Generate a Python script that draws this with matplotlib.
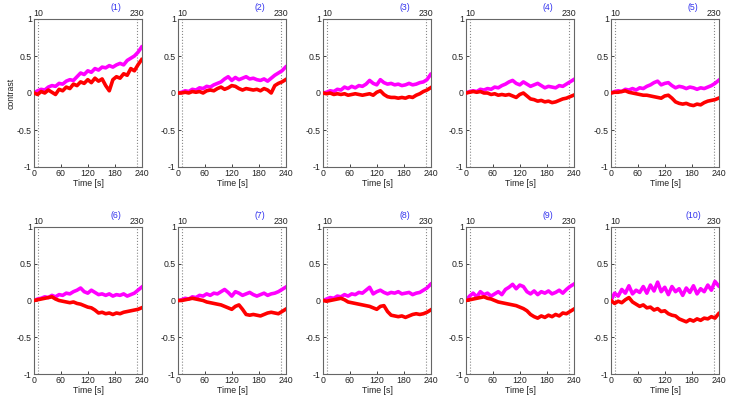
import numpy as np
import matplotlib
matplotlib.use("Agg")
import matplotlib.pyplot as plt

# time samples (s)
t = list(range(0, 241, 8))

titles = ["(1)", "(2)", "(3)", "(4)", "(5)", "(6)", "(7)", "(8)", "(9)", "(10)"]
xticks = [0, 60, 120, 180, 240]
yticks = [-1, -0.5, 0, 0.5, 1]
ytick_labels = ["-1", "-0.5", "0", "0.5", "1"]
top_ticks = [10, 230]

m1 = [0.00,0.03,0.05,0.04,0.08,0.10,0.09,0.13,0.12,0.16,0.18,0.17,0.22,0.27,0.25,0.30,0.28,0.33,0.31,0.35,0.34,0.37,0.35,0.38,0.40,0.38,0.44,0.47,0.50,0.55,0.62]
r1 = [0.00,-0.02,0.02,0.00,0.04,0.01,-0.02,0.05,0.03,0.08,0.06,0.12,0.10,0.15,0.13,0.18,0.14,0.20,0.16,0.19,0.10,0.03,0.18,0.22,0.20,0.26,0.24,0.33,0.30,0.38,0.45]
m2 = [0.00,0.01,0.03,0.02,0.05,0.04,0.07,0.06,0.09,0.08,0.11,0.13,0.15,0.19,0.22,0.17,0.21,0.18,0.20,0.22,0.19,0.20,0.18,0.17,0.19,0.16,0.20,0.24,0.27,0.30,0.35]
r2 = [0.00,0.00,0.01,0.00,0.02,0.01,0.02,0.00,0.03,0.04,0.03,0.06,0.08,0.05,0.07,0.10,0.09,0.06,0.04,0.06,0.05,0.04,0.05,0.03,0.06,0.04,0.00,0.10,0.13,0.15,0.18]
m3 = [0.00,0.01,0.03,0.02,0.05,0.04,0.08,0.06,0.09,0.07,0.10,0.09,0.12,0.17,0.13,0.11,0.18,0.14,0.12,0.13,0.11,0.12,0.10,0.11,0.13,0.11,0.12,0.14,0.15,0.18,0.25]
r3 = [0.00,-0.01,0.00,-0.02,-0.01,-0.02,-0.01,-0.03,-0.02,-0.01,-0.02,-0.03,-0.02,-0.01,-0.03,0.01,0.03,-0.02,-0.05,-0.06,-0.06,-0.07,-0.06,-0.07,-0.05,-0.06,-0.03,-0.01,0.02,0.04,0.07]
m4 = [0.00,0.02,0.03,0.02,0.05,0.04,0.06,0.05,0.08,0.07,0.10,0.12,0.15,0.17,0.13,0.11,0.15,0.12,0.09,0.11,0.13,0.10,0.07,0.09,0.08,0.07,0.10,0.09,0.12,0.15,0.18]
r4 = [0.00,0.01,0.02,0.01,0.02,0.00,0.00,-0.02,-0.01,-0.03,-0.02,-0.03,-0.02,-0.04,-0.06,-0.02,0.00,-0.04,-0.08,-0.09,-0.11,-0.10,-0.12,-0.11,-0.13,-0.12,-0.10,-0.08,-0.07,-0.05,-0.03]
m5 = [0.00,0.02,0.03,0.02,0.05,0.04,0.06,0.04,0.07,0.06,0.09,0.11,0.14,0.16,0.11,0.13,0.14,0.10,0.07,0.09,0.08,0.06,0.08,0.07,0.05,0.07,0.06,0.08,0.10,0.13,0.17]
r5 = [0.00,0.01,0.01,0.02,0.03,0.01,0.00,-0.01,-0.02,-0.03,-0.03,-0.04,-0.05,-0.06,-0.07,-0.04,-0.03,-0.07,-0.12,-0.14,-0.15,-0.14,-0.16,-0.17,-0.15,-0.16,-0.13,-0.11,-0.10,-0.09,-0.07]
m6 = [0.00,0.02,0.03,0.05,0.04,0.07,0.05,0.08,0.07,0.10,0.09,0.12,0.14,0.17,0.12,0.10,0.14,0.11,0.08,0.09,0.07,0.09,0.06,0.08,0.07,0.09,0.06,0.08,0.10,0.14,0.18]
r6 = [0.00,0.01,0.02,0.03,0.04,0.05,0.02,0.00,-0.01,-0.02,-0.03,-0.02,-0.04,-0.05,-0.07,-0.09,-0.10,-0.13,-0.17,-0.16,-0.18,-0.17,-0.19,-0.17,-0.18,-0.16,-0.15,-0.14,-0.13,-0.12,-0.10]
m7 = [0.00,0.01,0.03,0.02,0.05,0.04,0.07,0.06,0.09,0.07,0.10,0.09,0.12,0.15,0.11,0.06,0.12,0.10,0.07,0.09,0.11,0.08,0.06,0.08,0.10,0.07,0.09,0.10,0.12,0.15,0.18]
r7 = [0.00,0.00,0.01,0.02,0.03,0.02,0.01,0.00,-0.02,-0.03,-0.04,-0.05,-0.06,-0.08,-0.10,-0.12,-0.08,-0.06,-0.12,-0.19,-0.20,-0.19,-0.20,-0.21,-0.19,-0.17,-0.16,-0.17,-0.18,-0.15,-0.12]
m8 = [0.00,0.02,0.04,0.03,0.06,0.05,0.08,0.06,0.09,0.08,0.11,0.10,0.14,0.18,0.09,0.12,0.14,0.11,0.09,0.11,0.10,0.12,0.09,0.10,0.11,0.08,0.10,0.11,0.14,0.17,0.22]
r8 = [0.00,-0.01,0.00,0.01,0.02,0.03,0.01,-0.02,-0.03,-0.04,-0.05,-0.06,-0.07,-0.08,-0.10,-0.12,-0.08,-0.07,-0.15,-0.20,-0.21,-0.22,-0.21,-0.23,-0.21,-0.19,-0.18,-0.19,-0.18,-0.16,-0.13]
m9 = [0.00,0.06,0.10,0.05,0.12,0.08,0.10,0.06,0.09,0.12,0.08,0.15,0.18,0.22,0.16,0.21,0.19,0.12,0.09,0.13,0.08,0.12,0.10,0.13,0.09,0.11,0.14,0.10,0.15,0.19,0.22]
r9 = [0.00,0.01,0.02,0.03,0.04,0.05,0.03,0.02,0.00,-0.02,-0.03,-0.04,-0.05,-0.06,-0.07,-0.09,-0.11,-0.14,-0.19,-0.22,-0.24,-0.21,-0.23,-0.20,-0.22,-0.19,-0.21,-0.17,-0.18,-0.15,-0.12]
m10 = [0.00,0.10,0.06,0.15,0.10,0.20,0.09,0.14,0.11,0.19,0.10,0.21,0.13,0.25,0.12,0.18,0.08,0.19,0.12,0.16,0.07,0.17,0.11,0.20,0.09,0.16,0.12,0.21,0.14,0.26,0.20]
r10 = [0.00,-0.04,-0.01,-0.03,0.01,0.04,-0.02,-0.05,-0.08,-0.06,-0.10,-0.09,-0.13,-0.11,-0.15,-0.14,-0.18,-0.20,-0.21,-0.25,-0.27,-0.29,-0.26,-0.28,-0.25,-0.27,-0.24,-0.25,-0.22,-0.24,-0.18]

magenta_series = [m1, m2, m3, m4, m5, m6, m7, m8, m9, m10]
red_series = [r1, r2, r3, r4, r5, r6, r7, r8, r9, r10]

W, H = 731, 404
fig = plt.figure(figsize=(W / 100, H / 100), dpi=100)
plt.rcParams['font.family'] = ['Liberation Sans', 'DejaVu Sans']

col_left = [34, 178, 323, 466, 611]
ax_w = 108
rows = [(19, 167), (227, 374)]
fs = 6.3

for i in range(10):
    r, c = divmod(i, 5)
    top, bot = rows[r]
    ax = fig.add_axes([col_left[c] / W, 1 - bot / H, ax_w / W, (bot - top) / H])
    for xv in top_ticks:
        ax.axvline(xv, color='#888888', linestyle=':', linewidth=0.8, zorder=1)
    ax.plot(t, red_series[i], color='#ff0000', linewidth=2.6, zorder=3)
    ax.plot(t, magenta_series[i], color='#ff00ff', linewidth=2.6, zorder=2)
    ax.set_xlim(0, 241)
    ax.set_ylim(-1, 1)
    ax.set_xticks(xticks)
    ax.set_xticklabels([str(v) for v in xticks])
    ax.set_yticks(yticks)
    ax.set_yticklabels(ytick_labels)
    ax.tick_params(direction='in', length=2.5, width=0.6, labelsize=fs, pad=1.5,
                   colors='#222222', top=False, right=False)
    for s in ax.spines.values():
        s.set_color('#666666')
        s.set_linewidth(0.8)
    ax.set_xlabel('Time [s]', fontsize=fs, labelpad=1, color='#222222')
    if i == 0:
        ax.set_ylabel('contrast', fontsize=fs, labelpad=1, color='#222222')
    sec = ax.secondary_xaxis('top')
    sec.set_xticks(top_ticks)
    sec.set_xticklabels([str(v) for v in top_ticks])
    sec.tick_params(length=0, labelsize=fs, pad=1, colors='#222222')
    sec.spines['top'].set_visible(False)
    ax.text(0.76, 1.045, titles[i], transform=ax.transAxes, ha='center', va='bottom',
            fontsize=fs, color='#3333ee')

fig.savefig('out.png', dpi=100)
